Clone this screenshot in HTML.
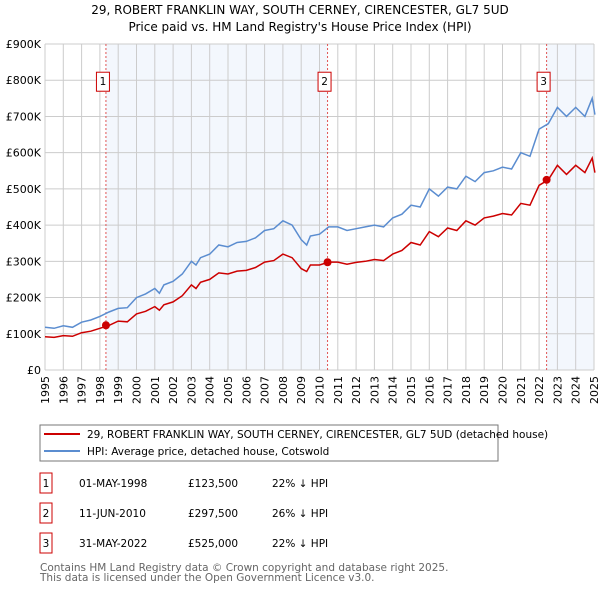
<!DOCTYPE html>
<html><head><meta charset="utf-8"><style>
body{margin:0;background:#fff;font-family:"DejaVu Sans","Liberation Sans",sans-serif;}
svg text{font-family:"DejaVu Sans","Liberation Sans",sans-serif;}
</style></head><body>
<svg id="c" width="600" height="590" viewBox="0 0 600 590" xmlns="http://www.w3.org/2000/svg">
<text x="300" y="14" text-anchor="middle" font-size="12">29, ROBERT FRANKLIN WAY, SOUTH CERNEY, CIRENCESTER, GL7 5UD</text>
<text x="300" y="31" text-anchor="middle" font-size="12">Price paid vs. HM Land Registry's House Price Index (HPI)</text>
<g id="plot"></g>
<g>
<rect x="40" y="425" width="458" height="36" fill="#fff" stroke="#777"/>
<line x1="44" y1="434" x2="80" y2="434" stroke="#cc0000" stroke-width="2"/>
<text x="87" y="438" font-size="10.5">29, ROBERT FRANKLIN WAY, SOUTH CERNEY, CIRENCESTER, GL7 5UD (detached house)</text>
<line x1="44" y1="451" x2="80" y2="451" stroke="#5b8dd0" stroke-width="2"/>
<text x="87" y="455" font-size="10.5">HPI: Average price, detached house, Cotswold</text>
</g>
<g id="tbl" font-size="10.5"></g>
<text x="40" y="571" font-size="10.5" fill="#666">Contains HM Land Registry data © Crown copyright and database right 2025.</text>
<text x="40" y="581" font-size="10.5" fill="#666">This data is licensed under the Open Government Licence v3.0.</text>
</svg>
<script>
const hpiDates=[1995,1995.5,1996,1996.5,1997,1997.5,1998,1998.5,1999,1999.5,2000,2000.5,2001,2001.25,2001.5,2002,2002.5,2003,2003.25,2003.5,2004,2004.5,2005,2005.5,2006,2006.5,2007,2007.5,2008,2008.5,2009,2009.3,2009.5,2010,2010.5,2011,2011.5,2012,2012.5,2013,2013.5,2014,2014.5,2015,2015.5,2016,2016.5,2017,2017.5,2018,2018.5,2019,2019.5,2020,2020.5,2021,2021.5,2022,2022.5,2023,2023.5,2024,2024.5,2024.9,2025.05];
const hpiValues=[118,115,122,118,132,138,148,160,170,172,200,210,225,212,235,245,265,300,290,310,320,345,340,352,355,365,385,390,412,400,360,345,370,375,395,395,385,390,395,400,395,420,430,455,450,500,480,505,500,535,520,545,550,560,555,600,590,665,680,725,700,725,700,750,705];
const ppValues=[92,90,95,93,103,107,115,123,135,133,155,162,175,165,180,188,205,235,225,242,250,268,265,273,275,283,298,302,320,310,280,272,290,290,298,298,292,297,300,305,302,320,330,352,345,382,368,392,385,412,400,420,425,432,428,460,455,510,525,565,540,565,545,585,545];
const saleDates=[1998.33,2010.44,2022.41];
const saleValues=[123.5,297.5,525];
const saleLabels=["1","2","3"];
const saleDateText=["01-MAY-1998","11-JUN-2010","31-MAY-2022"];
const salePriceText=["£123,500","£297,500","£525,000"];
const saleHpiText=["22% ↓ HPI","26% ↓ HPI","22% ↓ HPI"];
const yTicks=[0,100,200,300,400,500,600,700,800,900];
const yTickLabels=["£0","£100K","£200K","£300K","£400K","£500K","£600K","£700K","£800K","£900K"];
const xYears=[1995,1996,1997,1998,1999,2000,2001,2002,2003,2004,2005,2006,2007,2008,2009,2010,2011,2012,2013,2014,2015,2016,2017,2018,2019,2020,2021,2022,2023,2024,2025];

const NS="http://www.w3.org/2000/svg";
const X0=45,X1=594,Y0=370,Y1=44;
const xs=t=>X0+(t-1995)/30*(X1-X0);
const ys=v=>Y0-v/900*(Y0-Y1);
function mk(tag,attrs,parent){const e=document.createElementNS(NS,tag);for(const k in attrs)e.setAttribute(k,attrs[k]);parent.appendChild(e);return e;}
const plot=document.getElementById('plot');
let r=mk('rect',{x:xs(saleDates[0]),y:Y1,width:xs(saleDates[1])-xs(saleDates[0]),height:Y0-Y1,fill:'#eef3fc',opacity:0.7},plot);


r=mk('rect',{x:xs(saleDates[2]),y:Y1,width:X1-xs(saleDates[2]),height:Y0-Y1,fill:'#eef3fc',opacity:0.7},plot);


yTicks.forEach((v,i)=>{
 const l=mk('line',{x1:X0,x2:X1,y1:ys(v),y2:ys(v),stroke:'#ccc'},plot);
 
 
 const t=mk('text',{x:X0-4,y:ys(v)+4,'text-anchor':'end','font-size':11},plot);
 t.textContent=yTickLabels[i];
 
 
});
xYears.forEach(yr=>{
 const l=mk('line',{x1:xs(yr),x2:xs(yr),y1:Y1,y2:Y0,stroke:'#ccc'},plot);
 
 
 const t=mk('text',{x:0,y:0,'font-size':11,'text-anchor':'end',transform:`translate(${xs(yr)+4},${Y0+6}) rotate(-90)`},plot);
 t.textContent=yr;
 
 
});
saleDates.forEach((d,i)=>{
 const l=mk('line',{x1:xs(d),x2:xs(d),y1:Y1,y2:Y0,stroke:'#e05555','stroke-dasharray':'2,2'},plot);
 
 
});
const pts=vals=>hpiDates.map((d,i)=>xs(d).toFixed(1)+','+ys(vals[i]).toFixed(1)).join(' ');
let p=mk('polyline',{points:pts(hpiValues),fill:'none',stroke:'#5b8dd0','stroke-width':1.5},plot);


p=mk('polyline',{points:pts(ppValues),fill:'none',stroke:'#cc0000','stroke-width':1.5},plot);


saleDates.forEach((d,i)=>{
 const c=mk('circle',{cx:xs(d),cy:ys(saleValues[i]),r:4,fill:'#cc0000'},plot);
 
 
 const b=mk('rect',{x:xs(d)-9.5,y:ys(800)-8,width:13,height:19,fill:'#fff',stroke:'#cc0000'},plot);
 
 
 const t=mk('text',{x:xs(d)-3,y:ys(800)+5,'text-anchor':'middle','font-size':10.5},plot);
 t.textContent=saleLabels[i];
 
 
});
const tbl=document.getElementById('tbl');
saleLabels.forEach((s,i)=>{
 const cy=483+i*30;
 const b=mk('rect',{x:40,y:cy-10,width:12,height:20,fill:'#fff',stroke:'#cc0000'},tbl);
 
 
 const cols=[[46,s,'middle'],[79,saleDateText[i],'start'],[188,salePriceText[i],'start'],[272,saleHpiText[i],'start']];
 const names=['table-index','table-date','table-price','table-hpi-diff'];
 cols.forEach((c,j)=>{
  const t=mk('text',{x:c[0],y:cy+4,'text-anchor':c[2]},tbl);
  t.textContent=c[1];
  
  
 });
});
</script>
</body></html>
